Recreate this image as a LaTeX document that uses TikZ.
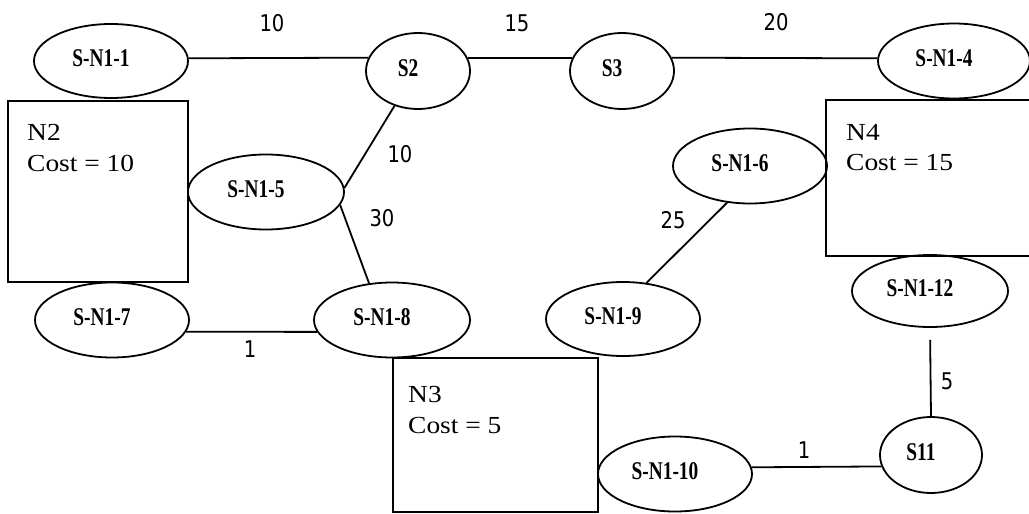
\documentclass[tikz,border=0pt]{standalone}
\usepackage{fontspec}
\setmainfont{Liberation Serif}
\newfontfamily\ellfont[FakeStretch=0.76]{Liberation Serif}
\newfontfamily\boxfont[FakeStretch=1.12]{Liberation Serif}
\newfontfamily\numfont[FakeStretch=0.85]{DejaVu Sans}
\usetikzlibrary{shapes.geometric}
\tikzset{
  ell/.style={ellipse, draw, line width=1.8pt, inner sep=0pt,
    minimum width=154pt, minimum height=75pt, text depth=6pt,
    font=\ellfont\bfseries\fontsize{25.5}{28}\selectfont,
    execute at begin node={\hspace*{-20pt}}},
  sell/.style={ell, minimum width=104pt, minimum height=76pt},
  boxnode/.style={draw, line width=1.8pt, rectangle, inner sep=0pt, anchor=north west},
  btext/.style={anchor=base west, inner sep=0pt, font=\boxfont\fontsize{24.5}{28}\selectfont},
  num/.style={inner sep=0pt, font=\numfont\fontsize{23}{26}\selectfont},
  link/.style={line width=1.8pt}
}
\begin{document}
\begin{tikzpicture}[x=1pt,y=-1pt]
\useasboundingbox (0,0) rectangle (1029,514);
% boxes
\node[boxnode, minimum width=180pt, minimum height=181pt] (N2) at (7,100) {};
\node[boxnode, minimum width=205pt, minimum height=154pt] (N3) at (392,357) {};
\node[boxnode, minimum width=215pt, minimum height=156pt] (N4) at (825,99) {};
\node[btext] (N2a) at (27,140) {N2};
\node[btext] (N2b) at (27,171) {Cost = 10};
\node[btext] (N4a) at (846,140) {N4};
\node[btext] (N4b) at (846,170) {Cost = 15};
\node[btext] (N3a) at (408,402) {N3};
\node[btext] (N3b) at (408,433) {Cost = 5};
% ellipses
\node[ell, minimum height=74pt] (n1) at (111,61) {S-N1-1};
\node[sell] (s2) at (418,71) {S2};
\node[sell] (s3) at (622,71) {S3};
\node[ell, minimum width=152pt] (n4) at (954,61) {S-N1-4};
\node[ell, minimum width=156pt] (n5) at (266,192) {S-N1-5};
\node[ell] (n6) at (750,166) {S-N1-6};
\node[ell] (n7) at (112,320) {S-N1-7};
\node[ell, minimum width=156pt] (n8) at (392,320) {S-N1-8};
\node[ell, minimum height=74pt] (n9) at (623,319) {S-N1-9};
\node[ell, minimum width=156pt, minimum height=72pt] (n12) at (930,291) {S-N1-12};
\node[sell, minimum width=102pt] (s11) at (931,455) {S11};
\node[ell] (n10) at (675,474) {S-N1-10};
% connectors
\draw[link] (n1.2) -- (s2.165);
\draw[link] (s2.15) -- (s3.165);
\draw[link] (s3.15) -- (n4.178);
\draw[link] (s2.236) -- (n5.3);
\draw[link] (n5.350) -- (n8.122);
\draw[link] (n7.351) -- (n8.189);
\draw[link] (n6.238) -- (n9.57);
\draw[link, shorten <=12pt] (n12.south) -- (s11.north);
\draw[link] (n10.5) -- (s11.193);
% weights
\node[num] (w1) at (272,23) {10};
\node[num] (w2) at (517,23) {15};
\node[num] (w3) at (776,22) {20};
\node[num] (w4) at (400,154) {10};
\node[num] (w5) at (382,218) {30};
\node[num] (w6) at (673,220) {25};
\node[num] (w7) at (250,349) {1};
\node[num] (w8) at (947,381) {5};
\node[num] (w9) at (804,450) {1};
\end{tikzpicture}
\end{document}
